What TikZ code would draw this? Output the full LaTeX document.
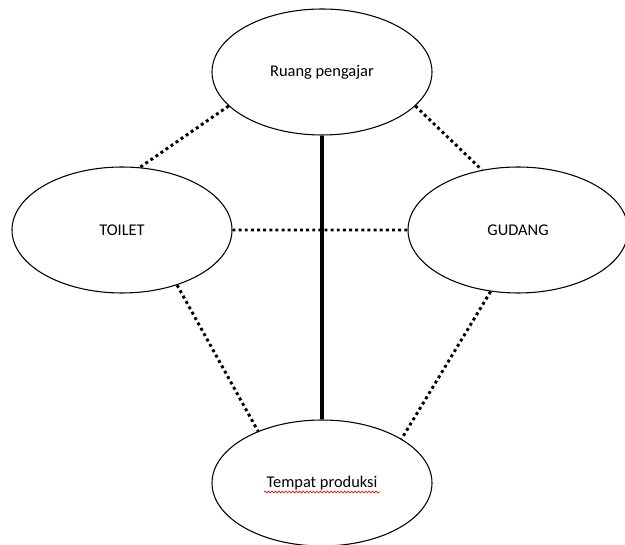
\documentclass[tikz,border=0pt]{standalone}
\usepackage{fontspec}
\setmainfont{Carlito}
\usetikzlibrary{shapes.geometric,calc,decorations.pathmorphing}
\tikzset{
  room/.style={ellipse, draw, line width=.8pt, inner sep=0pt,
    minimum width=165pt, minimum height=94.5pt},
  dotline/.style={line width=2.2pt, dash pattern=on 2.2pt off 2.4pt},
  wall/.style={line width=2.3pt},
}
\begin{document}
\begin{tikzpicture}[x=.75pt, y=-.75pt, every node/.style={font=\fontsize{12.3}{15}\selectfont}]
  \useasboundingbox (0,0) rectangle (625,545);
  \node[room] (ruang) at (322,72) {Ruang pengajar};
  \node[room] (toilet) at (122,230) {TOILET};
  \node[room] (gudang) at (518,230) {GUDANG};
  \node[room] (tempat) at (322,483) {Tempat produksi};
  \draw[wall] (ruang.south)--(tempat.north);
  \draw[dotline] (ruang.200)--(toilet.74) (ruang.340)--(gudang.121)
    (toilet.east)--(gudang.west) (toilet.315)--(tempat.141)
    (gudang.246)--(tempat.29);
  \draw[red, line width=.5pt, decorate,
    decoration={snake, amplitude=.7pt, segment length=2.6pt}]
    ($(tempat.center)+(-58,9)$)--($(tempat.center)+(58,9)$);
\end{tikzpicture}
\end{document}
